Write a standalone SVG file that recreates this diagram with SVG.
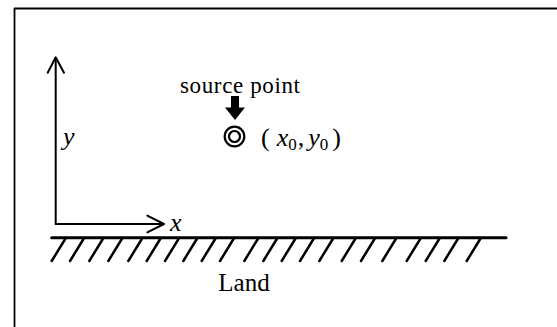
<svg xmlns="http://www.w3.org/2000/svg" width="557" height="327" viewBox="0 0 557 327">
<style>
.ln{stroke:#000;fill:none;stroke-linecap:round;stroke-linejoin:round}
.ax{stroke-width:2}
.ht{stroke-width:2.5}
.t{font-family:"Liberation Serif","Times New Roman",serif;fill:#000}
.i{font-style:italic}
</style>
<rect width="557" height="327" fill="#fff"/>
<g id="frame">
<path class="ln" d="M14.5,327 V8.5 H557" stroke-width="1.8" stroke-linecap="butt"/>
</g>
<g id="connectors">
<path class="ln ax" d="M55.7,224 V58"/>
<path class="ln ax" d="M47.7,72.7 L55.7,57.3 L64,72.7"/>
<path class="ln ax" d="M55.7,224 H163"/>
<path class="ln ax" d="M147.3,215.7 L164,224 L147.3,232.3"/>
<path d="M231,96 H239 V107.5 H245 L235,120 L225,107.5 H231 Z" fill="#000"/>
</g>
<g id="y-label"><text class="t i" x="63" y="145" font-size="26">y</text></g>
<g id="x-label"><text class="t i" x="170" y="231" font-size="26">x</text></g>
<g id="source-label"><text class="t" x="180" y="93" font-size="23" textLength="120" lengthAdjust="spacing">source  point</text></g>
<g id="source-point">
<circle cx="234.5" cy="136.5" r="9.8" fill="none" stroke="#000" stroke-width="2.2"/>
<circle cx="234.5" cy="136.5" r="5.5" fill="none" stroke="#000" stroke-width="2.2"/>
</g>
<g id="coord-label"><text class="t" x="261" y="146" font-size="26">(<tspan class="i" dx="7">x</tspan><tspan font-size="17" dy="4">0</tspan><tspan dy="-4" dx="1">,</tspan><tspan class="i" dx="4">y</tspan><tspan font-size="17" dy="4">0</tspan><tspan dy="-4" dx="4">)</tspan></text></g>
<g id="land">
<path class="ln" d="M51.7,237.7 H506" stroke-width="3" stroke-linecap="butt"/>
<g class="ln ht">
<path d="M51.7,261 l13.5,-22"/><path d="M70,261 l13.5,-22"/><path d="M89.3,261 l13.5,-22"/><path d="M108.3,261 l13.5,-22"/><path d="M128.3,261 l13.5,-22"/><path d="M146.7,261 l13.5,-22"/><path d="M165,261 l13.5,-22"/><path d="M183.3,261 l13.5,-22"/><path d="M201.7,261 l13.5,-22"/><path d="M220,261 l13.5,-22"/><path d="M244.3,261 l13.5,-22"/><path d="M263.3,261 l13.5,-22"/><path d="M281.7,261 l13.5,-22"/><path d="M300,261 l13.5,-22"/><path d="M319.3,261 l13.5,-22"/><path d="M341.7,261 l13.5,-22"/><path d="M361,261 l13.5,-22"/><path d="M382.3,261 l13.5,-22"/><path d="M406.7,261 l13.5,-22"/><path d="M425.7,261 l13.5,-22"/><path d="M444.3,261 l13.5,-22"/><path d="M466.7,261 l13.5,-22"/>
</g>
<text class="t" x="244" y="291" font-size="25" text-anchor="middle">Land</text>
</g>
</svg>
